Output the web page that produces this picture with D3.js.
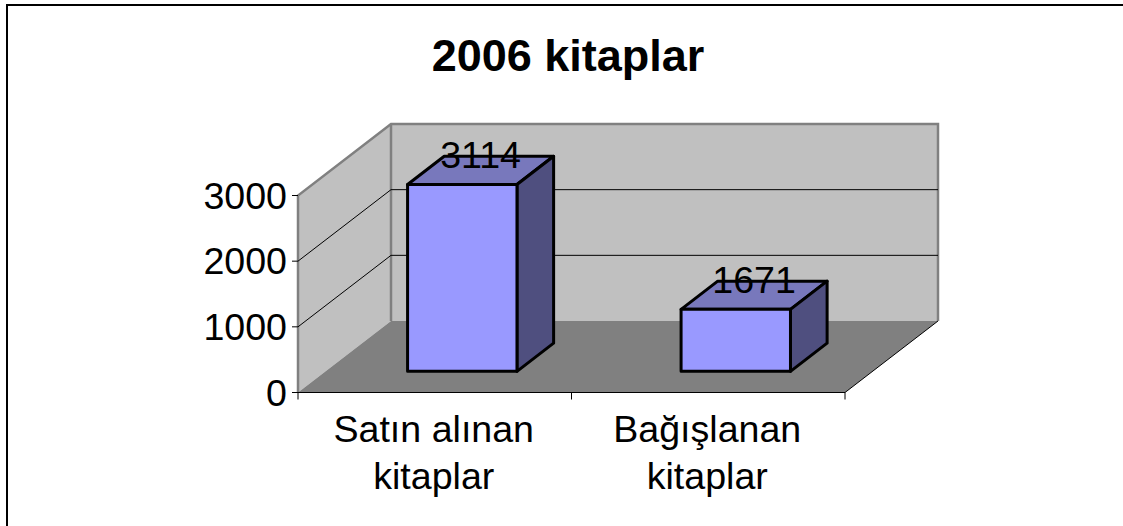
<!DOCTYPE html>
<html><head><meta charset="utf-8">
<script src="https://cdn.jsdelivr.net/npm/d3@7"></script>
<style>html,body{margin:0;padding:0;background:#fff}svg{display:block}text{font-family:"Liberation Sans",Arial,sans-serif;fill:#000}</style>
</head><body><svg id="c" width="1123" height="526"></svg>
<script>
const chartTitle = "2006 kitaplar";
const categories = ["Satın alınan kitaplar", "Bağışlanan kitaplar"];
const categoryLines = [["Satın alınan", "kitaplar"], ["Bağışlanan", "kitaplar"]];
const dataLabels = [3114, 1671];
// drawn bar heights as read against the value axis (the picture's bars stop short of their labels)
const drawnHeights = [2846, 944];
const yTicks = [0, 1000, 2000, 3000];

const svg = d3.select("#c");
svg.append("path").attr("d","M7,526V5H1123").attr("fill","none").attr("stroke","#000").attr("stroke-width",2);

const x = d3.scaleBand().domain(categories).range([298,845]).paddingInner(0.6).paddingOuter(0.3);
const y = d3.scaleLinear().domain([0,3000]).range([392.5,195.5]);
const dz = d3.scaleLinear().domain([0,1]).range([0,1]);
const DX = 93, DY = -71.5;
const P = (px, v, d) => [px + dz(d)*DX, y(v) + dz(d)*DY];
const line = pts => "M" + pts.map(p => p.join(",")).join("L") + "Z";
const open = pts => "M" + pts.map(p => p.join(",")).join("L");
const [x0, x1] = x.range();
const vMax = yTicks[yTicks.length-1];
const FS = 37.6;

// walls and floor
svg.append("path").attr("d", line([P(x0,0,0),P(x0,vMax,0),P(x0,vMax,1),P(x0,0,1)])).attr("fill","#c0c0c0");
svg.append("path").attr("d", line([P(x0,0,1),P(x0,vMax,1),P(x1,vMax,1),P(x1,0,1)])).attr("fill","#c0c0c0");
svg.append("path").attr("d", open([P(x0,0,0),P(x0,vMax,0),P(x0,vMax,1),P(x1,vMax,1),P(x1,0,1)])).attr("fill","none").attr("stroke","#808080").attr("stroke-width",2.5);
svg.append("path").attr("d", open([P(x0,0,1),P(x0,vMax,1)])).attr("fill","none").attr("stroke","#808080").attr("stroke-width",2.5);
svg.append("path").attr("d", line([P(x0,0,0),P(x0,0,1),P(x1,0,1),P(x1,0,0)])).attr("fill","#808080");

// gridlines
yTicks.filter(t => t>0 && t<vMax).forEach(t => {
  svg.append("path").attr("d", open([P(x0,t,0),P(x0,t,1),P(x1,t,1)])).attr("fill","none").attr("stroke","#000").attr("stroke-width",1);
});
svg.append("path").attr("d", open([P(x1,0,1),P(x1,0,0),P(x0,0,0)])).attr("fill","none").attr("stroke","#000").attr("stroke-width",1);

// axes
yTicks.forEach(t => {
  svg.append("line").attr("x1",x0-6).attr("x2",x0).attr("y1",y(t)).attr("y2",y(t)).attr("stroke","#000");
  svg.append("text").attr("x",x0-11).attr("y",y(t)+13).attr("text-anchor","end").attr("font-size",FS).text(t);
});
[x0, x0 + x.step(), x1].forEach(tx => svg.append("line").attr("x1",tx).attr("x2",tx).attr("y1",y(0)).attr("y2",y(0)+7).attr("stroke","#000"));

// bars
const front = 0.296, back = 0.69;
categories.forEach((c,i) => {
  const a = x(c), b = a + x.bandwidth(), h = drawnHeights[i];
  const g = svg.append("g").attr("fill","none").attr("stroke","#000").attr("stroke-width",3).attr("stroke-linejoin","round");
  g.append("path").attr("d", line([P(a,h,front),P(a,h,back),P(b,h,back),P(b,h,front)])).attr("fill","#7878bc");
  g.append("path").attr("d", line([P(b,0,front),P(b,h,front),P(b,h,back),P(b,0,back)])).attr("fill","#4f4f7f");
  g.append("path").attr("d", line([P(a,0,front),P(a,h,front),P(b,h,front),P(b,0,front)])).attr("fill","#9999ff");
  const top = P((a+b)/2, h, (front+back)/2);
  svg.append("text").attr("x",top[0]).attr("y",top[1]-2).attr("text-anchor","middle").attr("font-size",FS).text(dataLabels[i]);
  categoryLines[i].forEach((t,k) => svg.append("text").attr("x",a+x.bandwidth()/2-1).attr("y",442+k*46.5).attr("text-anchor","middle").attr("font-size",FS).text(t));
});

svg.append("text").attr("x",568).attr("y",71).attr("text-anchor","middle").attr("font-size",45).attr("font-weight","bold").text(chartTitle);
</script></body></html>
